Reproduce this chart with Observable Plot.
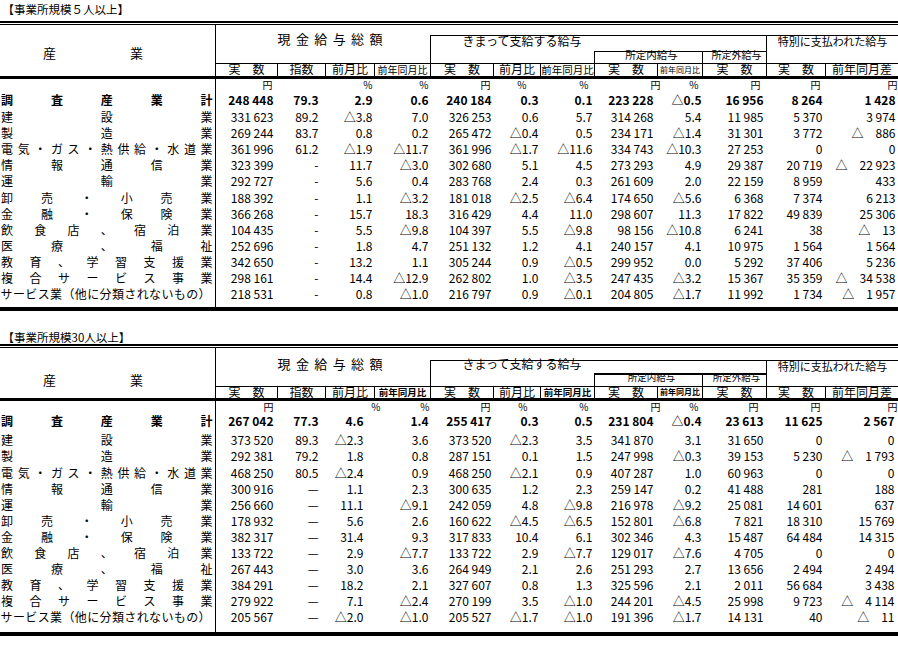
<!DOCTYPE html>
<html><head><meta charset="utf-8">
<script src="https://cdn.jsdelivr.net/npm/d3@7"></script>
<script src="https://cdn.jsdelivr.net/npm/@observablehq/plot@0.6"></script>
<style>
html,body{margin:0;padding:0;background:#fff;}
#chart svg{display:block;}
</style>
</head><body><div id="chart"></div>
<script>
// ---------- labels ----------
const industries = ["調査産業計","建設業","製造業","電気・ガス・熱供給・水道業","情報通信業","運輸業","卸売・小売業","金融・保険業","飲食店、宿泊業","医療、福祉","教育、学習支援業","複合サービス事業","サービス業（他に分類されないもの）"];
const columnHeads = ["実　数","指数","前月比","前年同月比","実　数","前月比","前年同月比","実　数","前年同月比","実　数","実　数","前年同月差"];
const units = ["円","","%","%","円","%","%","円","%","円","円","円"];
const groupCash = "現金給与総額";
const groupRegular = "きまって支給する給与";
const groupScheduled = "所定内給与";
const groupOvertime = "所定外給与";
const groupSpecial = "特別に支払われた給与";
const industryHead = "産業";
const titles = ["【事業所規模５人以上】","【事業所規模30人以上】"];

// ---------- 事業所規模5人以上 ----------
const cash5 = [248448,331623,269244,361996,323399,292727,188392,366268,104435,252696,342650,298161,218531];
const index5 = [79.3,89.2,83.7,61.2,null,null,null,null,null,null,null,null,null];
const cashMoM5 = [2.9,-3.8,0.8,-1.9,11.7,5.6,1.1,15.7,5.5,1.8,13.2,14.4,0.8];
const cashYoY5 = [0.6,7.0,0.2,-11.7,-3.0,0.4,-3.2,18.3,-9.8,4.7,1.1,-12.9,-1.0];
const regular5 = [240184,326253,265472,361996,302680,283768,181018,316429,104397,251132,305244,262802,216797];
const regularMoM5 = [0.3,0.6,-0.4,-1.7,5.1,2.4,-2.5,4.4,5.5,1.2,0.9,1.0,0.9];
const regularYoY5 = [0.1,5.7,0.5,-11.6,4.5,0.3,-6.4,11.0,-9.8,4.1,-0.5,-3.5,-0.1];
const scheduled5 = [223228,314268,234171,334743,273293,261609,174650,298607,98156,240157,299952,247435,204805];
const scheduledYoY5 = [-0.5,5.4,-1.4,-10.3,4.9,2.0,-5.6,11.3,-10.8,4.1,0.0,-3.2,-1.7];
const overtime5 = [16956,11985,31301,27253,29387,22159,6368,17822,6241,10975,5292,15367,11992];
const special5 = [8264,5370,3772,0,20719,8959,7374,49839,38,1564,37406,35359,1734];
const specialDiff5 = [1428,3974,-886,0,-22923,433,6213,25306,-13,1564,5236,-34538,-1957];

// ---------- 事業所規模30人以上 ----------
const cash30 = [267042,373520,292381,468250,300916,256660,178932,382317,133722,267443,384291,279922,205567];
const index30 = [77.3,89.3,79.2,80.5,null,null,null,null,null,null,null,null,null];
const cashMoM30 = [4.6,-2.3,1.8,-2.4,1.1,11.1,5.6,31.4,2.9,3.0,18.2,7.1,-2.0];
const cashYoY30 = [1.4,3.6,0.8,0.9,2.3,-9.1,2.6,9.3,-7.7,3.6,2.1,-2.4,-1.0];
const regular30 = [255417,373520,287151,468250,300635,242059,160622,317833,133722,264949,327607,270199,205527];
const regularMoM30 = [0.3,-2.3,0.1,-2.1,1.2,4.8,-4.5,10.4,2.9,2.1,0.8,3.5,-1.7];
const regularYoY30 = [0.5,3.5,1.5,0.9,2.3,-9.8,-6.5,6.1,-7.7,2.6,1.3,-1.0,-1.0];
const scheduled30 = [231804,341870,247998,407287,259147,216978,152801,302346,129017,251293,325596,244201,191396];
const scheduledYoY30 = [-0.4,3.1,-0.3,1.0,0.2,-9.2,-6.8,4.3,-7.6,2.7,2.1,-4.5,-1.7];
const overtime30 = [23613,31650,39153,60963,41488,25081,7821,15487,4705,13656,2011,25998,14131];
const special30 = [11625,0,5230,0,281,14601,18310,64484,0,2494,56684,9723,40];
const specialDiff30 = [2567,0,-1793,0,188,637,15769,14315,0,2494,3438,-4114,-11];

// ---------- layout (positions / styles) ----------
const W = 898, H = 649;
const FONT = "'Noto Sans CJK JP', 'Noto Sans CJK SC', sans-serif";
const colEdges = [215,277,325,374,430,493,540,594,657,702,766,825,898];
const kinds = ["yen","index","pct","pct","yen","pct","pct","yen","pct","yen","yen","diff"];

const layouts = [
  {titleY:10, top:21, boxTop:34.5, subTop:50.5, subW:1, headTop:62.5, headBottom:76.5, bottom:308.5,
   groupY:39, regY:42, specY:42, subY:55, subSize:10.5, indHeadY:53, headY:70, unitY:85.5, totalY:100.7, firstRow:117.7, step:16.1,
   dash:"-", valueRight:[273,318,372,428,491,538,592,653,701,763,822,895],
   unitRight:[272,0,372,428,490,526,588,660,698,760,820,897],
   headSize:[12,12,12,10,12,12,10.5,12,8,12,12,12], headBold:false},
  {titleY:338, top:344.5, boxTop:359.5, subTop:373, subW:2, headTop:385.5, headBottom:398.5, bottom:633.5,
   groupY:364, regY:365, specY:367, subY:377.8, subSize:9.5, indHeadY:380, headY:392.3, unitY:407.2, totalY:421.9, firstRow:441, step:16.1,
   dash:"—", valueRight:[273,318,363,428,491,538,592,653,701,763,822,894],
   unitRight:[273,0,380,429,490,527,588,660,698,758,820,897],
   headSize:[12,12,12,9.5,12,12,9.5,12,8,12,12,12], headBold:true}
];

const tableCols = [
  [cash5,index5,cashMoM5,cashYoY5,regular5,regularMoM5,regularYoY5,scheduled5,scheduledYoY5,overtime5,special5,specialDiff5],
  [cash30,index30,cashMoM30,cashYoY30,regular30,regularMoM30,regularYoY30,scheduled30,scheduledYoY30,overtime30,special30,specialDiff30]
];

// ---------- formatting ----------
const fmtInt = v => d3.format(",")(v).replace(/,/g, " ");
function fmt(kind, v, dash) {
  if (kind === "yen") return fmtInt(v);
  if (kind === "index") return v == null ? dash : v.toFixed(1);
  if (kind === "pct") return v < 0 ? "△" + Math.abs(v).toFixed(1) : v.toFixed(1);
  if (kind === "diff") return v < 0 ? "△\u2003" + fmtInt(-v) : fmtInt(v);
  return String(v);
}
function spread(text, x1, x2, y, extra) {
  const chars = Array.from(text);
  const n = chars.length;
  return chars.map((ch, i) => Object.assign({ch, x: n > 1 ? x1 + i * (x2 - x1) / (n - 1) : (x1 + x2) / 2, y}, extra));
}

// ---------- build mark data ----------
const hLines = [], vLines = [], titleCells = [], headCells = [], unitCells = [], valueCells = [], labelChars = [], groupChars = [];
layouts.forEach((L, t) => {
  titleCells.push({x: 2, y: L.titleY, text: titles[t]});
  hLines.push({x1:0, x2:W, y:L.top, w:2});
  hLines.push({x1:0, x2:W, y:L.top + 2.5, w:1});
  hLines.push({x1:colEdges[4], x2:W, y:L.boxTop, w:1});
  hLines.push({x1:colEdges[7], x2:colEdges[10], y:L.subTop, w:L.subW});
  hLines.push({x1:colEdges[0], x2:W, y:L.headTop, w:1});
  hLines.push({x1:0, x2:W, y:L.headBottom, w:3});
  hLines.push({x1:0, x2:W, y:L.bottom, w:4});
  vLines.push({x:colEdges[0], y1:L.top + 3, y2:L.bottom});
  [4,10].forEach(c => vLines.push({x:colEdges[c], y1:L.boxTop, y2:L.headBottom}));
  [7,9].forEach(c => vLines.push({x:colEdges[c], y1:L.subTop, y2:L.headBottom}));
  [1,2,3,5,6,8,11].forEach(c => vLines.push({x:colEdges[c], y1:L.headTop, y2:L.headBottom}));

  // group headings
  spread(groupCash, 283.5, 375.5, L.groupY, {size:13}).forEach(d => groupChars.push(d));
  spread(industryHead, 49, 136, L.indHeadY, {size:13}).forEach(d => groupChars.push(d));
  headCells.push({x:462, y:L.regY, text:groupRegular, size:12, bold:false, anchor:"start"});
  headCells.push({x:(colEdges[10] + colEdges[12]) / 2, y:L.specY, text:groupSpecial, size:11, bold:false});
  headCells.push({x:(colEdges[7] + colEdges[9]) / 2 + 3, y:L.subY, text:groupScheduled, size:L.subSize, bold:false});
  headCells.push({x:(colEdges[9] + colEdges[10]) / 2 + 2, y:L.subY, text:groupOvertime, size:Math.min(10, L.subSize), bold:false});

  columnHeads.forEach((h, c) => {
    const small = L.headSize[c] < 11;
    headCells.push({x:(colEdges[c] + colEdges[c+1]) / 2, y:L.headY, text:h, size:L.headSize[c], bold: small && L.headBold});
    if (units[c]) unitCells.push({x:L.unitRight[c], y:L.unitY, text:units[c]});
  });

  industries.forEach((name, r) => {
    const y = r === 0 ? L.totalY : L.firstRow + (r - 1) * L.step;
    const long = Array.from(name).length > 14;
    spread(name, long ? 6 : 6.5, long ? 204 : 206, y, {size: 12, bold: r === 0}).forEach(d => labelChars.push(d));
    tableCols[t].forEach((col, c) => {
      valueCells.push({x:L.valueRight[c], y, text:fmt(kinds[c], col[r], L.dash), bold: r === 0});
    });
  });
});

const chart = Plot.plot({
  width: W, height: H, margin: 0,
  x: {domain: [0, W], range: [0, W], axis: null},
  y: {domain: [0, H], range: [0, H], axis: null},
  style: {background: "#fff", fontFamily: FONT},
  marks: [
    Plot.ruleY(hLines, {y:"y", x1:"x1", x2:"x2", strokeWidth: d => d.w, stroke:"#000", shapeRendering:"crispEdges"}),
    Plot.ruleX(vLines, {x:"x", y1:"y1", y2:"y2", strokeWidth:1, stroke:"#000", shapeRendering:"crispEdges"}),
    Plot.text(titleCells, {x:"x", y:"y", text:"text", textAnchor:"start", fontSize:11.5, fontFamily:FONT, fill:"#000"}),
    Plot.text(groupChars, {x:"x", y:"y", text:"ch", fontSize: d => d.size, fontFamily:FONT, fill:"#000"}),
    Plot.text(headCells.filter(d => d.anchor === "start"), {x:"x", y:"y", text:"text", textAnchor:"start", fontSize: d => d.size, fontFamily:FONT, fill:"#000"}),
    Plot.text(headCells.filter(d => !d.anchor && !d.bold), {x:"x", y:"y", text:"text", fontSize: d => d.size, fontFamily:FONT, fill:"#000"}),
    Plot.text(headCells.filter(d => !d.anchor && d.bold), {x:"x", y:"y", text:"text", fontSize: d => d.size, fontWeight:"bold", fontFamily:FONT, fill:"#000"}),
    Plot.text(unitCells, {x:"x", y:"y", text:"text", textAnchor:"end", fontSize:10, fontFamily:FONT, fill:"#000"}),
    Plot.text(valueCells.filter(d => !d.bold), {x:"x", y:"y", text:"text", textAnchor:"end", fontSize:12, fontFamily:FONT, fill:"#000"}),
    Plot.text(valueCells.filter(d => d.bold), {x:"x", y:"y", text:"text", textAnchor:"end", fontSize:12, fontWeight:"bold", fontFamily:FONT, fill:"#000"}),
    Plot.text(labelChars.filter(d => !d.bold), {x:"x", y:"y", text:"ch", fontSize: d => d.size, fontFamily:FONT, fill:"#000"}),
    Plot.text(labelChars.filter(d => d.bold), {x:"x", y:"y", text:"ch", fontSize: d => d.size, fontWeight:"bold", fontFamily:FONT, fill:"#000"})
  ]
});
document.getElementById("chart").appendChild(chart);
</script>
</body></html>
